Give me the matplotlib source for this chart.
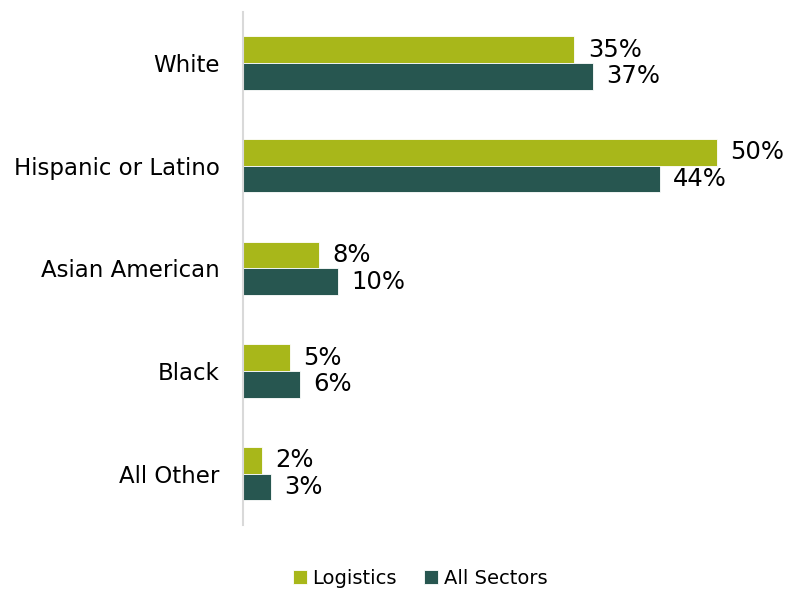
import numpy as np
import matplotlib
matplotlib.use('Agg')
import matplotlib.pyplot as plt

# data
categories = ['White', 'Hispanic or Latino', 'Asian American', 'Black', 'All Other']
logistics = [0.35, 0.50, 0.08, 0.05, 0.02]
all_sectors = [0.37, 0.44, 0.10, 0.06, 0.03]
series_names = ['Logistics', 'All Sectors']

col_log = '#A8B71A'
col_all = '#275650'

plt.rcParams['font.family'] = ['DejaVu Sans']

fig = plt.figure(figsize=(7.96, 5.9), dpi=100)
ax = fig.add_axes([0.3053, 0.110, 0.69, 0.870])

y = np.arange(len(categories))
h = 0.26
ax.barh(y - h / 2, logistics, height=h, color=col_log, edgecolor='white', linewidth=0.6, label=series_names[0])
ax.barh(y + h / 2, all_sectors, height=h, color=col_all, edgecolor='white', linewidth=0.6, label=series_names[1])

for k in range(len(categories)):
    ax.text(logistics[k] + 0.014, y[k] - h / 2, '%d%%' % round(logistics[k] * 100),
            va='center', ha='left', fontsize=17.5, color='black')
    ax.text(all_sectors[k] + 0.014, y[k] + h / 2, '%d%%' % round(all_sectors[k] * 100),
            va='center', ha='left', fontsize=17.5, color='black')

ax.set_ylim(len(categories) - 0.5, -0.5)
ax.set_xlim(0, 0.58)
ax.set_yticks(y)
ax.set_yticklabels(categories, fontsize=16.5)
ax.tick_params(axis='y', length=0, pad=17)
ax.set_xticks([])
for s in ['top', 'right', 'bottom']:
    ax.spines[s].set_visible(False)
ax.spines['left'].set_color('#D9D9D9')
ax.spines['left'].set_linewidth(1.5)

fig.legend(loc='center', bbox_to_anchor=(0.528, 0.02), ncol=2, frameon=False,
           fontsize=14, handlelength=0.7, handleheight=0.7, handletextpad=0.3,
           columnspacing=1.4)

fig.savefig('out.png', dpi=100)
